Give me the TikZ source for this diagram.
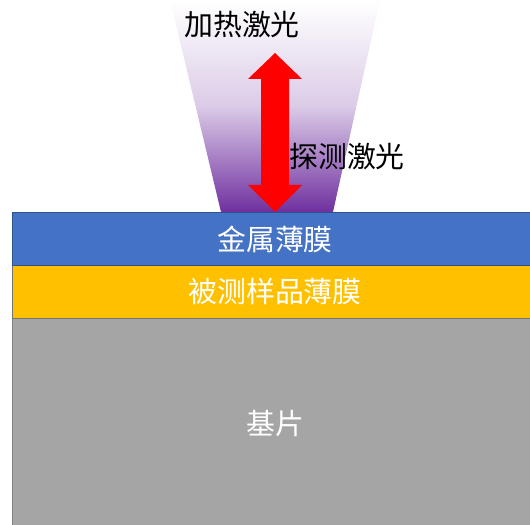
\documentclass[tikz,border=0pt]{standalone}
\usepackage{fontspec}
\setmainfont{Noto Sans CJK SC}
\definecolor{layerblue}{HTML}{4472C4}
\definecolor{layerblueedge}{HTML}{2F528F}
\definecolor{layeryellow}{HTML}{FFC000}
\definecolor{layergray}{HTML}{A5A5A5}
\definecolor{beampurple}{HTML}{7030A0}
\begin{document}
\begin{tikzpicture}[x=1bp,y=-1bp,
  layer/.style={draw=layerblueedge, line width=0.8bp},
  layertext/.style={text=white, font=\fontsize{29}{33}\selectfont},
  blacktext/.style={text=black, font=\fontsize{29}{33}\selectfont}]
\useasboundingbox (0,0) rectangle (530,525);
% beam
\shade[top color=white, bottom color=beampurple, middle color=beampurple!25!white]
  (170,0) -- (380,0) -- (333,212) -- (221,212) -- cycle;
% layers
\node[layer, fill=layergray, draw=layergray!80!black, minimum width=518bp, minimum height=207bp, inner sep=0pt, anchor=north west] (sub) at (12,318) {};
\node[layer, fill=layeryellow, draw=layergray!70!black, minimum width=518bp, minimum height=53bp, inner sep=0pt, anchor=north west] (film) at (12,265) {};
\node[layer, fill=layerblue, minimum width=518bp, minimum height=53bp, inner sep=0pt, anchor=north west] (metal) at (12,212) {};
\node[layertext] (metaltext) at (275,239) {金属薄膜};
\node[layertext] (filmtext) at (275,292) {被测样品薄膜};
\node[layertext] (subtext) at (275,424) {基片};
% arrow
\fill[red] (275,53) -- (302,79) -- (289,79) -- (289,185) -- (302,185) -- (275,212)
  -- (248,185) -- (261,185) -- (261,79) -- (248,79) -- cycle;
\node[blacktext] (heat) at (242,25) {加热激光};
\node[blacktext] (probe) at (347,157) {探测激光};
\end{tikzpicture}
\end{document}
